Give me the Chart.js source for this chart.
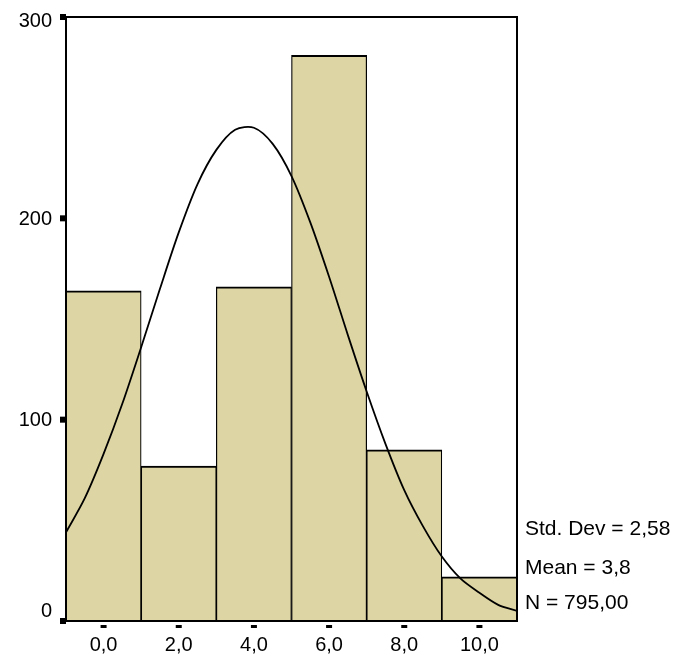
<!DOCTYPE html>
<html>
<head>
<meta charset="utf-8">
<script src="https://cdn.jsdelivr.net/npm/chart.js@4/dist/chart.umd.min.js"></script>
<style>
  html, body { margin: 0; padding: 0; background: #fff; }
  #wrap { width: 676px; height: 657px; position: relative; }
</style>
</head>
<body>
<div id="wrap"><canvas id="c"></canvas></div>
<script>
// ---- data ----
const binCenters = [0, 2, 4, 6, 8, 10];
const counts = [164, 77, 166, 281, 85, 22];
const xTickLabels = ['0,0', '2,0', '4,0', '6,0', '8,0', '10,0'];
const yTickValues = [0, 100, 200, 300];
const yTickLabels = ['0', '100', '200', '300'];
const curveX = [-1, -0.5, 0, 0.5, 1, 1.5, 2, 2.5, 3, 3.5, 4, 4.5, 5, 5.5, 6, 6.5, 7, 7.5, 8, 8.5, 9, 9.5, 10, 10.5, 11];
const curveY = [44, 61, 83, 108, 136, 165, 193, 217, 234, 244, 245, 237, 221, 198, 171, 142, 114, 88, 65, 47, 32, 21, 14, 8, 5];
const statLines = ['Std. Dev = 2,58', 'Mean = 3,8', 'N = 795,00'];

const FONT = '"Liberation Sans", Arial, Helvetica, sans-serif';

const decor = {
  id: 'decor',
  afterDraw(chart) {
    const ctx = chart.ctx;
    const a = chart.chartArea;
    const xs = chart.scales.x, ys = chart.scales.y;
    ctx.save();
    // frame
    ctx.strokeStyle = '#000';
    ctx.lineWidth = 2;
    ctx.strokeRect(a.left, a.top, a.right - a.left, a.bottom - a.top);
    ctx.fillStyle = '#000';
    // y tick squares + labels
    ctx.font = '20px ' + FONT;
    ctx.textAlign = 'right';
    ctx.textBaseline = 'middle';
    yTickValues.forEach((v, i) => {
      const py = ys.getPixelForValue(v);
      ctx.fillRect(a.left - 6, py - 3, 6, 6);
      const ly = Math.min(Math.max(py, a.top + 3), a.bottom - 11);
      ctx.fillText(yTickLabels[i], a.left - 14, ly + 1);
    });
    // x tick squares
    binCenters.forEach(v => {
      const px = xs.getPixelForValue(v);
      ctx.fillRect(px - 3, a.bottom + 4, 6, 3);
    });
    // stats text
    ctx.font = '21px ' + FONT;
    ctx.textAlign = 'left';
    const offs = [93, 54, 19];
    statLines.forEach((s, i) => {
      ctx.fillText(s, a.right + 8, a.bottom - offs[i] + 1);
    });
    ctx.restore();
  }
};

new Chart(document.getElementById('c'), {
  data: {
    datasets: [
      {
        type: 'line',
        data: curveX.map((x, i) => ({ x: x, y: curveY[i] })),
        borderColor: '#000',
        borderWidth: 1.8,
        pointRadius: 0,
        tension: 0.3,
        fill: false,
        order: 1
      },
      {
        type: 'bar',
        data: binCenters.map((x, i) => ({ x: x, y: counts[i] })),
        backgroundColor: '#DDD5A3',
        borderColor: '#000',
        borderWidth: { top: 2, left: 1.2, right: 1.2, bottom: 0 },
        borderSkipped: false,
        barPercentage: 1,
        categoryPercentage: 1,
        order: 2
      }
    ]
  },
  options: {
    responsive: true,
    maintainAspectRatio: false,
    animation: false,
    devicePixelRatio: 1,
    layout: { padding: { left: 0, right: 159, top: 17, bottom: 0 } },
    plugins: { legend: { display: false }, tooltip: { enabled: false } },
    scales: {
      x: {
        type: 'linear',
        offset: false,
        min: -1,
        max: 11,
        grid: { display: false, drawTicks: false, offset: false },
        border: { display: false },
        afterBuildTicks: s => { s.ticks = binCenters.map(v => ({ value: v })); },
        afterFit: s => { s.height = 36; },
        ticks: {
          autoSkip: false,
          maxRotation: 0,
          padding: 12,
          color: '#000',
          font: { family: FONT, size: 20 },
          callback: v => xTickLabels[binCenters.indexOf(v)]
        }
      },
      y: {
        min: 0,
        max: 300,
        grid: { display: false, drawTicks: false },
        border: { display: false },
        afterBuildTicks: s => { s.ticks = yTickValues.map(v => ({ value: v })); },
        afterFit: s => { s.width = 66; },
        ticks: { display: false }
      }
    }
  },
  plugins: [decor]
});
</script>
</body>
</html>
